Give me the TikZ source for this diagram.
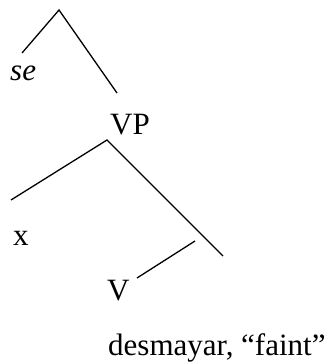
\documentclass[tikz,border=0pt]{standalone}
\usepackage{fontspec}
\setmainfont{Liberation Serif}
\usepackage{tikz}

\begin{document}
\begin{tikzpicture}[
    x=1pt, y=-1pt,
    word/.style={anchor=base west, inner sep=0pt, font=\fontsize{31}{37}\selectfont},
    branch/.style={draw, line width=1.3pt}
]
\useasboundingbox (0,0) rectangle (331,362);
% upper projection
\coordinate (top) at (59,10);
\coordinate (topL) at (22,53);
\coordinate (topR) at (117,93);
\node[word] (se) at (10,80) {\textit{se}};
\node[word] (vp) at (110,134) {VP};
% VP
\coordinate (vpTop) at (107,140);
\coordinate (vpL) at (11,200);
\coordinate (vpR) at (223,256);
\node[word] (x) at (13,245) {x};
\coordinate (vHi) at (195,241);
\coordinate (vLo) at (137,278);
\node[word] (v) at (107,300) {V};
\node[word] (gloss) at (108,355) {desmayar, ``faint''};
\draw[branch] (topL) -- (top) -- (topR);
\draw[branch] (vpL) -- (vpTop) -- (vpR);
\draw[branch] (vLo) -- (vHi);
\end{tikzpicture}
\end{document}
